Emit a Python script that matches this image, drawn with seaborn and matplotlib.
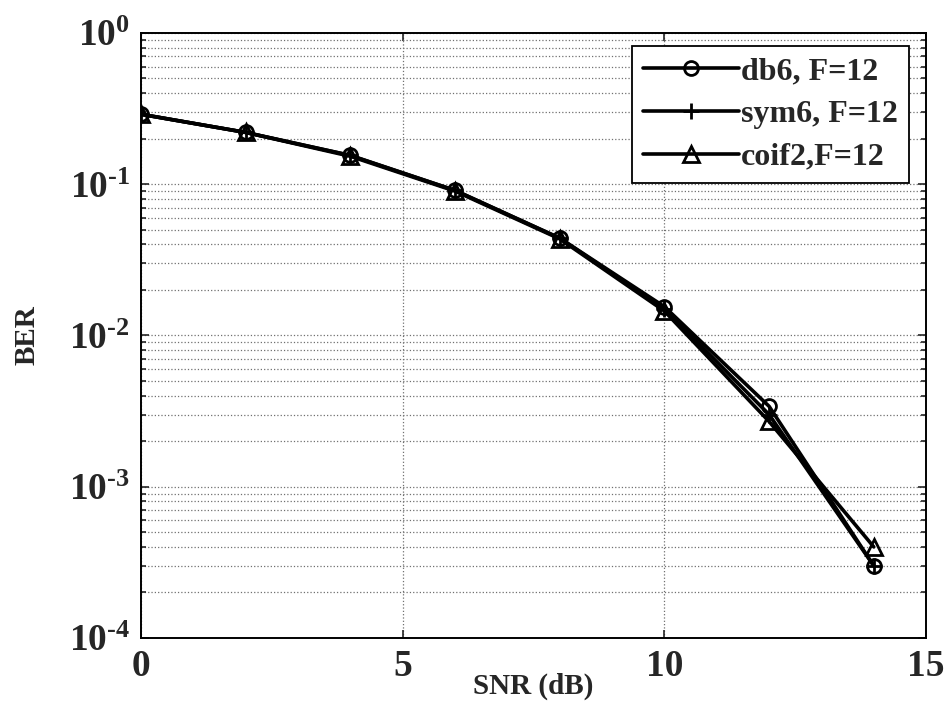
import numpy as np
import pandas as pd
import matplotlib
matplotlib.use("Agg")
import matplotlib.pyplot as plt
import seaborn as sns
from matplotlib.ticker import FixedLocator, FuncFormatter, LogLocator, NullFormatter

snr = [0, 2, 4, 6, 8, 10, 12, 14]
db6 = [0.29, 0.22, 0.155, 0.091, 0.044, 0.0155, 0.0034, 0.0003]
sym6 = [0.29, 0.22, 0.155, 0.091, 0.044, 0.015, 0.0030, 0.0003]
coif2 = [0.29, 0.22, 0.153, 0.090, 0.0435, 0.0145, 0.0027, 0.0004]
labels = ["db6, F=12", "sym6, F=12", "coif2,F=12"]
x_ticks = [0, 5, 10, 15]
y_ticks = [1e-4, 1e-3, 1e-2, 1e-1, 1e0]

sns.set_style("white")
plt.rcParams['font.family'] = ['Liberation Serif', 'DejaVu Serif']
plt.rcParams['font.weight'] = 'bold'
plt.rcParams['mathtext.fontset'] = 'custom'
plt.rcParams['mathtext.rm'] = 'Liberation Serif:bold'
plt.rcParams['mathtext.it'] = 'Liberation Serif:bold:italic'
plt.rcParams['mathtext.bf'] = 'Liberation Serif:bold'

fig = plt.figure(figsize=(9.46, 7.07), dpi=100)
ax = fig.add_axes([0.149, 0.0976, 0.83, 0.8558])

series = [db6, sym6, coif2]
markers = ['o', '+', '^']
msizes = [10, 11, 11]
for vals, lab, mk, ms in zip(series, labels, markers, msizes):
    df = pd.DataFrame({"SNR": snr, "BER": vals})
    sns.lineplot(data=df, x="SNR", y="BER", ax=ax, color='black', linewidth=2.6,
                 marker=mk, markersize=ms, markerfacecolor='none',
                 markeredgecolor='black', markeredgewidth=2.0, label=lab)

ax.set_yscale('log')
ax.set_xlim(0, 15)
ax.set_ylim(1e-4, 1)
ax.xaxis.set_major_locator(FixedLocator(x_ticks))
ax.yaxis.set_major_locator(FixedLocator(y_ticks))
ax.yaxis.set_minor_locator(LogLocator(base=10, subs=np.arange(2, 10), numticks=20))
ax.yaxis.set_minor_formatter(NullFormatter())

def yfmt(v, pos):
    e = int(round(np.log10(v)))
    if e < 0:
        return r'$10^{\text{-}%d}$' % (-e)
    return r'$10^{%d}$' % e
ax.yaxis.set_major_formatter(FuncFormatter(yfmt))
ax.xaxis.set_major_formatter(FuncFormatter(lambda v, p: '%d' % v))

ax.grid(True, which='major', axis='both', linestyle=':', color='#707070', linewidth=0.9)
ax.grid(True, which='minor', axis='y', linestyle=':', color='#707070', linewidth=0.9)
ax.set_axisbelow(True)

ax.tick_params(axis='both', which='both', direction='in', top=True, right=True,
               left=True, bottom=True, labelsize=27, width=1.2)
ax.tick_params(axis='both', which='major', length=6, pad=8)
ax.tick_params(axis='y', which='minor', length=3.5)
for lab in ax.get_xticklabels() + ax.get_yticklabels():
    lab.set_fontweight('bold')
for s in ax.spines.values():
    s.set_linewidth(1.4)
    s.set_color('black')

ax.set_xlabel("SNR (dB)", fontsize=21, fontweight='bold', labelpad=-8)
ax.set_ylabel("BER", fontsize=21, fontweight='bold', labelpad=20)

leg = ax.legend(loc='upper right', bbox_to_anchor=(0.978, 0.979), fontsize=23,
                prop={'weight': 'bold', 'size': 23}, frameon=True, fancybox=False,
                edgecolor='black', framealpha=1, handlelength=3.0, handletextpad=0.05,
                borderpad=0.35, labelspacing=0.42, borderaxespad=0)
leg.get_frame().set_linewidth(1.3)

fig.savefig("out.png", dpi=100)
